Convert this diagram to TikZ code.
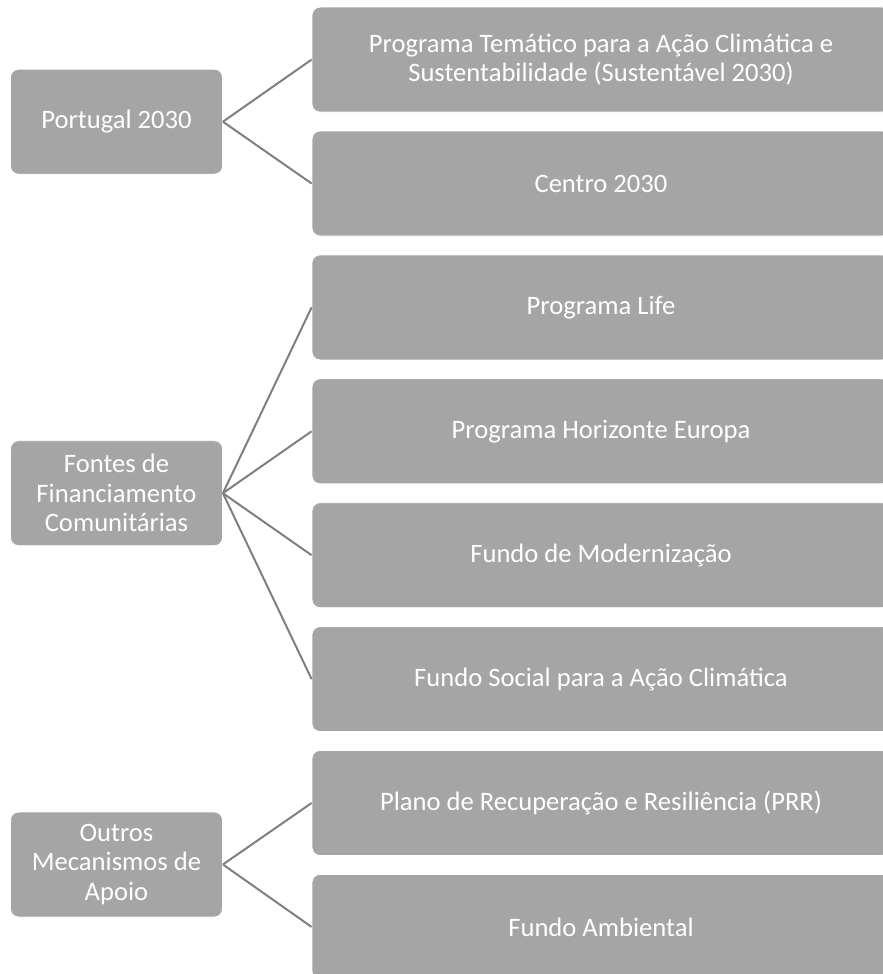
\documentclass[tikz,border=0pt]{standalone}
\usepackage{fontspec}
\setmainfont{Carlito}
\usepackage{xcolor}
\usepackage{tikz}
\usetikzlibrary{positioning}

\definecolor{boxgray}{HTML}{A5A5A5}
\definecolor{linkgray}{HTML}{7F7F7F}

\tikzset{
  gbox/.style={fill=boxgray, draw=white, line width=0.8pt, rounded corners=8pt,
    text=white, align=center, inner sep=0pt, font=\fontsize{26.6}{29.5}\selectfont},
  leftbox/.style={gbox, minimum width=212pt, minimum height=105pt},
  rightbox/.style={gbox, minimum width=578pt, minimum height=105pt},
  link/.style={draw=linkgray, line width=2pt}
}

\begin{document}
\begin{tikzpicture}[x=1pt, y=-1pt]
    \useasboundingbox (0,0) rectangle (883,974);
    \clip (0,0) rectangle (883,974);
    % right column
    \foreach \i/\t in {1/{Programa Temático para a Ação Climática e\\Sustentabilidade (Sustentável 2030)},
                       2/Centro 2030, 3/Programa Life, 4/Programa Horizonte Europa,
                       5/Fundo de Modernização, 6/Fundo Social para a Ação Climática,
                       7/Plano de Recuperação e Resiliência (PRR), 8/Fundo Ambiental} {
        \node[rightbox] (r\i) at (601, 59.6+123.9*\i-123.9) {\t};
    }
    % left column
    \node[leftbox] (pt) at (116.5, 121.7) {Portugal 2030};
    \node[leftbox] (fc) at (116.5, 493.2) {Fontes de\\Financiamento\\Comunitárias};
    \node[leftbox] (om) at (116.5, 864.5) {Outros\\Mecanismos de\\Apoio};
    % links
    \foreach \i in {1,2} \draw[link] (pt.east) -- (r\i.west);
    \foreach \i in {3,...,6} \draw[link] (fc.east) -- (r\i.west);
    \foreach \i in {7,8} \draw[link] (om.east) -- (r\i.west);
\end{tikzpicture}
\end{document}
